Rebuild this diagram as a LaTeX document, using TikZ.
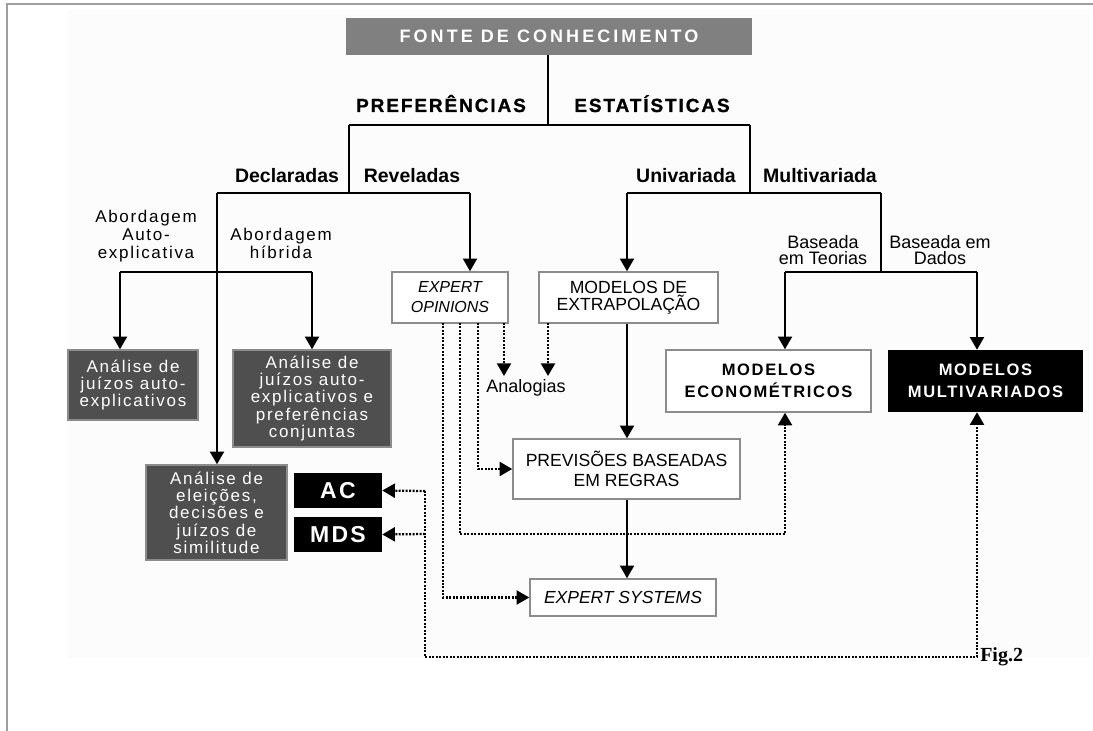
\documentclass[tikz,border=0pt]{standalone}
\usepackage{fontspec}
\setmainfont{Liberation Sans}
\newfontfamily\headfont{Liberation Sans}[LetterSpace=10,FakeBold=1]
\newfontfamily\titlefont{Liberation Sans}[LetterSpace=17]
\newfontfamily\spcfont{Liberation Sans}[LetterSpace=10]
\newfontfamily\figfont{Liberation Serif}
\usetikzlibrary{arrows.meta}

\definecolor{fontegray}{gray}{0.5}
\definecolor{darkfill}{gray}{0.31}
\definecolor{edgegray}{gray}{0.55}
\definecolor{framegray}{gray}{0.62}

\tikzset{
  con/.style={line width=1.5pt},
  thinline/.style={line width=0.9pt},
  dots/.style={line width=1.7pt, dash pattern=on 1.5pt off 1.1pt},
  >={Triangle[width=10.5pt,length=9.5pt]},
  sz/.style 2 args={minimum width=#1*0.75pt, minimum height=#2*0.75pt},
  wbox/.style={draw=edgegray, line width=1.1pt, fill=white, inner sep=0pt, align=center},
  dbox/.style={draw=edgegray, line width=1.1pt, fill=darkfill, text=white, inner sep=0pt,
    align=center, font=\spcfont\fontsize{12.75}{13}\selectfont},
  kbox/.style={fill=black, text=white, inner sep=0pt, align=center},
  lbl/.style={anchor=base, inner sep=0pt, font=\bfseries\fontsize{14.6}{17}\selectfont},
  note/.style={align=center, inner sep=0pt, font=\spcfont\fontsize{12.75}{13.5}\selectfont},
  plain/.style={align=center, inner sep=0pt, font=\fontsize{13.5}{12.5}\selectfont},
}

\begin{document}
\begin{tikzpicture}[x=0.75pt,y=-0.75pt]
  \useasboundingbox (0,0) rectangle (1093,731);
  \fill[black!1] (67,10) rectangle (1090,658);
  \draw[framegray, line width=1.5pt] (7,731) -- (7,4) -- (1093,4);

  \path
  (549,36.5)   node[sz={406}{37},fill=fontegray,text=white,inner sep=0pt,
                    font=\titlefont\bfseries\fontsize{13.5}{16}\selectfont](fonte) {FONTE DE CONHECIMENTO}

  (441,112)    node[lbl,font=\headfont\bfseries\fontsize{14.25}{17}\selectfont](pref)  {PREFERÊNCIAS}
  (652,112)    node[lbl,font=\headfont\bfseries\fontsize{14.25}{17}\selectfont](estat) {ESTATÍSTICAS}
  (287,183)    node[lbl](decl)   {Declaradas}
  (412,183)    node[lbl](revel)  {Reveladas}
  (686,183)    node[lbl](univ)   {Univariada}
  (820,183)    node[lbl](multiv) {Multivariada}

  (146,236)    node[note](autoexp) {Abordagem\\Auto-\\explicativa}
  (281,243)    node[note](hibrida) {Abordagem\\híbrida}
  (823,250)    node[plain](teorias) {Baseada\\em Teorias}
  (940,250)    node[plain](dados)   {Baseada em\\Dados}
  (526,388)    node[plain](analog)  {Analogias}

  (133,385)    node[dbox,sz={130}{70}](juizos)   {Análise de\\juízos auto-\\explicativos}
  (312,398.5)  node[dbox,sz={158}{97}](conjunt)  {Análise de\\juízos auto-\\explicativos e\\preferências\\conjuntas}
  (216.5,512.5) node[dbox,sz={141}{95}](eleicoes) {Análise de\\eleições,\\decisões e\\juízos de\\similitude}
  (338,490.5)  node[kbox,sz={88}{35},font=\spcfont\bfseries\fontsize{17.25}{18}\selectfont](ac)  {AC}
  (338,534.5)  node[kbox,sz={88}{35},font=\spcfont\bfseries\fontsize{17.25}{18}\selectfont](mds) {MDS}

  (450,297.5)  node[wbox,sz={116}{51},font=\itshape\fontsize{12}{15}\selectfont](opin) {EXPERT\\OPINIONS}
  (628.5,297.5) node[wbox,sz={179}{51},font=\fontsize{13.2}{12.75}\selectfont](extrap) {MODELOS DE\\EXTRAPOLAÇÃO}
  (626.5,469)  node[wbox,sz={227}{60},font=\fontsize{13.2}{15}\selectfont](prev) {PREVISÕES BASEADAS\\EM REGRAS}
  (623,597.5)  node[wbox,sz={186}{37},font=\itshape\fontsize{13.1}{15}\selectfont](expsys) {EXPERT SYSTEMS}
  (768.5,381)  node[wbox,sz={205}{62},font=\spcfont\bfseries\fontsize{12.4}{16.5}\selectfont](econ) {MODELOS\\ECONOMÉTRICOS}
  (985.5,381)  node[kbox,sz={195}{62},font=\spcfont\bfseries\fontsize{12.4}{16.5}\selectfont](multi) {MODELOS\\MULTIVARIADOS}

  (980,661)    node[anchor=base west,inner sep=0pt,font=\figfont\bfseries\fontsize{15}{17}\selectfont](fig) {Fig.2}
  ;

  \path
  (548,125) coordinate(top)  (349,125) coordinate(tl)  (750,125) coordinate(tr)
  (217,193) coordinate(dl)   (349,193) coordinate(dm)  (470,193) coordinate(dr)
  (627,193) coordinate(ul)   (750,193) coordinate(um)  (881,193) coordinate(ur)
  (120,272) coordinate(al)   (312,272) coordinate(ar)
  (785,272) coordinate(bl)   (881,272) coordinate(bm)  (977,272) coordinate(br)
  (443,323) coordinate(o1)   (460,323) coordinate(o2)  (478,323) coordinate(o3)
  (504,323) coordinate(o4)   (548,323) coordinate(x1)  (785,534) coordinate(e1)
  (425,491) coordinate(m1)   (425,534) coordinate(m2)
  (425,657) coordinate(m3)   (977,657) coordinate(m4)
  ;

  \draw[thinline] (fonte.south -| top) -- (top);
  \draw[thinline] (tl) -- (tr);
  \draw[con] (tl) -- (dm);
  \draw[con] (tr) -- (um);

  \draw[con] (dl) -- (dr);
  \draw[con,->] (dl) -- (dl |- eleicoes.north);
  \draw[con,->] (dr) -- (dr |- opin.north);
  \draw[con] (al) -- (ar);
  \draw[con,->] (al) -- (al |- juizos.north);
  \draw[con,->] (ar) -- (ar |- conjunt.north);

  \draw[con] (ul) -- (ur);
  \draw[con,->] (ul) -- (ul |- extrap.north);
  \draw[con] (ur) -- (bm);
  \draw[con] (bl) -- (br);
  \draw[con,->] (bl) -- (bl |- econ.north);
  \draw[con,->] (br) -- (br |- multi.north);
  \draw[con,->] (ul |- extrap.south) -- (ul |- prev.north);
  \draw[con,->] (ul |- prev.south) -- (ul |- expsys.north);

  \draw[dots,->] (o4) -- ++(0,53);
  \draw[dots,->] (x1) -- ++(0,53);
  \draw[dots,->] (o3) |- (prev.west);
  \draw[dots,->] (o2) |- (e1) -- (bl |- econ.south);
  \draw[dots,->] (o1) |- (expsys.west);
  \draw[dots,->] (m1) -- (ac.east);
  \draw[dots,->] (m2) -- (mds.east);
  \draw[dots,->] (m1) -- (m3) -- (m4) -- (br |- multi.south);

\end{tikzpicture}
\end{document}
